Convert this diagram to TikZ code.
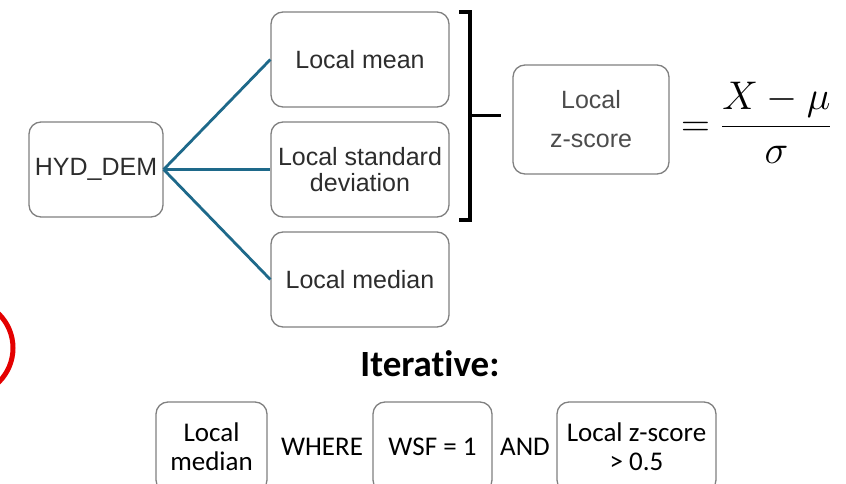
\RequirePackage{fix-cm}
\documentclass[tikz,border=0pt]{standalone}
\usepackage[no-math]{fontspec}
\setmainfont{Liberation Sans}
\newfontfamily\calfont[Ligatures=NoCommon]{Carlito}
\usepackage{amsmath}
\usepackage{tikz}
\usetikzlibrary{calc}

\definecolor{boxgray}{RGB}{128,128,128}
\definecolor{textgray}{RGB}{45,45,45}
\definecolor{branchteal}{RGB}{30,105,138}
\definecolor{markred}{RGB}{228,0,0}

\begin{document}
\begin{tikzpicture}[
            x=1pt, y=-1pt,
            box/.style={
                draw=boxgray, line width=1.3pt, rounded corners=12pt,
                minimum width=178pt, minimum height=95pt, inner sep=2pt,
                align=center, text=textgray,
                font=\fontsize{25}{26}\selectfont
            },
            lowbox/.style={
                draw=boxgray, line width=1.3pt, rounded corners=12pt,
                minimum height=90pt, inner sep=2pt, align=center,
                font=\calfont\fontsize{27}{29}\selectfont
            },
            lowword/.style={font=\calfont\fontsize{27}{29}\selectfont},
            branch/.style={draw=branchteal, line width=2.8pt},
            bracket/.style={draw=black, line width=4pt}
        ]

            \useasboundingbox (0,0) rectangle (846,484);

            % left tree
            \node[box, minimum width=134pt] (hyd) at (96,169.5) {HYD\_DEM};
            \node[box] (mean) at (360,59.5) {Local mean};
            \node[box] (sd) at (360,169.5) {Local standard\\deviation};
            \node[box] (med) at (360,279.5) {Local median};

            \draw[branch] (hyd.east) -- (mean.west);
            \draw[branch] (hyd.east) -- (sd.west);
            \draw[branch] (hyd.east) -- (med.west);

            % bracket and z-score
            \coordinate (brtop) at (470,12);
            \coordinate (brbot) at (470,220);
            \coordinate (brmid) at (470,116);
            \coordinate (brstub) at (501,116);
            \draw[bracket] (459,12) -- (brtop) -- (brbot) -- (459,220);
            \draw[bracket, line width=3pt] (brmid) -- (brstub);

            \node[box, minimum width=156pt, minimum height=109pt,
                  text=textgray!85, font=\fontsize{25}{39}\selectfont]
                (zscore) at (591,119.5) {Local\\z-score};

            \node[anchor=base west, inner sep=0pt, font=\fontsize{40}{40}\selectfont]
                (formula) at (681,136.5) {$=\dfrac{X-\mu}{\sigma}$};

            % iterative rule
            \node[font=\calfont\bfseries\fontsize{37}{37}\selectfont] (iter) at (430,364) {Iterative:};

            \node[lowbox, minimum width=111pt] (lowmed) at (211.5,447) {Local\\median};
            \node[lowword] (where) at (322,447) {WHERE};
            \node[lowbox, minimum width=119pt] (wsf) at (432.5,447) {WSF = 1};
            \node[lowword] (and) at (525,447) {AND};
            \node[lowbox, minimum width=159pt] (lowz) at (636.5,447) {Local z-score\\> 0.5};

            % red mark at the left edge
            \draw[markred, line width=5pt] (-35,348) circle (48);
        \end{tikzpicture}
\end{document}
